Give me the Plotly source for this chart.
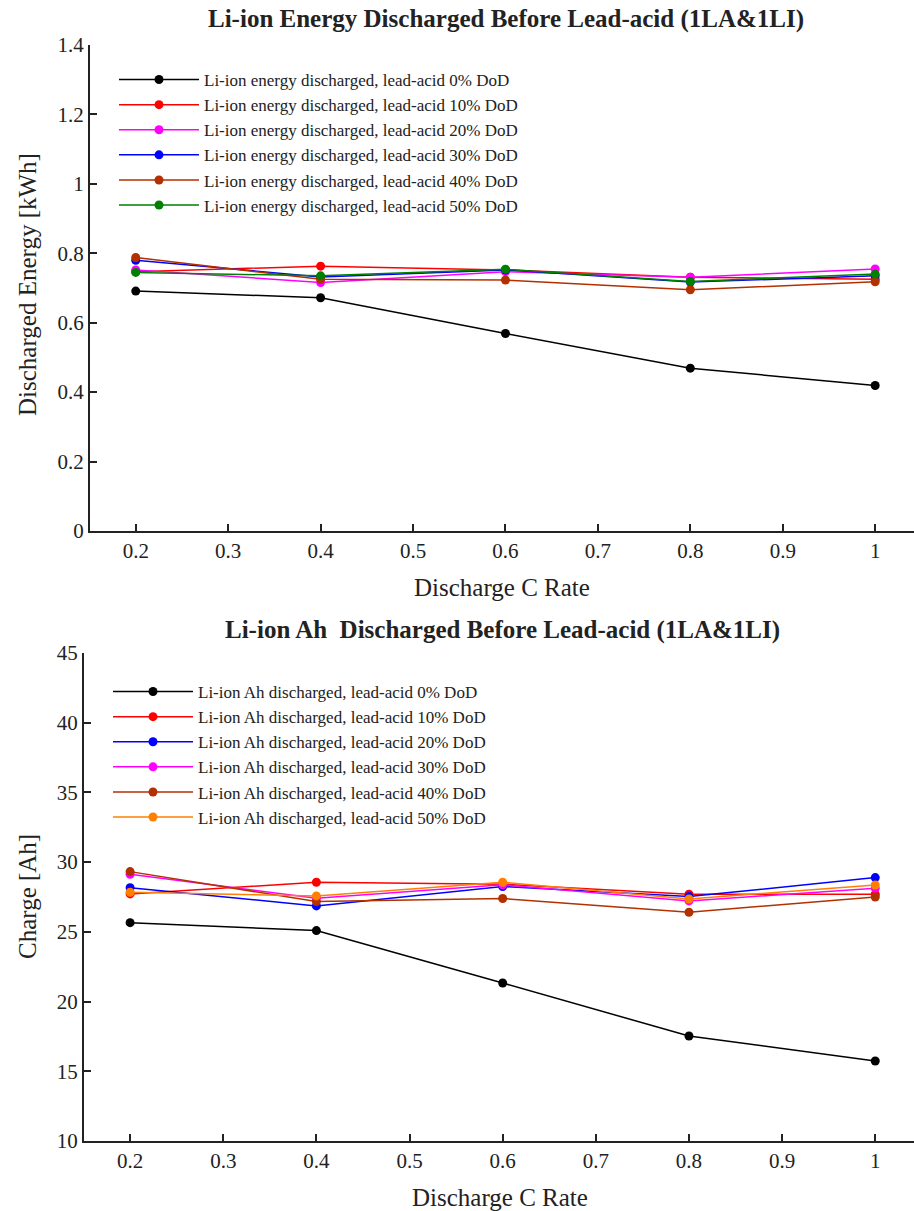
import plotly.graph_objects as go

c_rate = [0.2, 0.4, 0.6, 0.8, 1.0]

# Top chart: Li-ion energy discharged [kWh]
energy_0 = [0.691, 0.672, 0.569, 0.469, 0.419]
energy_10 = [0.747, 0.763, 0.752, 0.731, 0.725]
energy_20 = [0.752, 0.716, 0.747, 0.731, 0.755]
energy_30 = [0.780, 0.732, 0.752, 0.717, 0.735]
energy_40 = [0.788, 0.725, 0.723, 0.695, 0.718]
energy_50 = [0.745, 0.735, 0.754, 0.719, 0.740]

# Bottom chart: Li-ion Ah discharged [Ah]
ah_0 = [25.66, 25.09, 21.33, 17.53, 15.74]
ah_10 = [27.72, 28.56, 28.42, 27.70, 27.70]
ah_20 = [28.17, 26.86, 28.25, 27.53, 28.89]
ah_30 = [29.13, 27.41, 28.37, 27.22, 28.13]
ah_40 = [29.32, 27.17, 27.39, 26.41, 27.50]
ah_50 = [27.84, 27.58, 28.56, 27.36, 28.36]

dod_labels = ["0%", "10%", "20%", "30%", "40%", "50%"]

energy_series = [energy_0, energy_10, energy_20, energy_30, energy_40, energy_50]
energy_colors = ["#000000", "#FF0000", "#FF00FF", "#0000FF", "#B33000", "#008000"]
ah_series = [ah_0, ah_10, ah_20, ah_30, ah_40, ah_50]
ah_colors = ["#000000", "#FF0000", "#0000FF", "#FF00FF", "#B33000", "#FF8000"]

FONT = "Liberation Serif"
W, H = 914, 1211

fig = go.Figure()
for vals, col, lab in zip(energy_series, energy_colors, dod_labels):
    fig.add_trace(go.Scatter(
        x=c_rate, y=vals, mode="lines+markers",
        line=dict(color=col, width=1.5), marker=dict(color=col, size=9),
        name=f"Li-ion energy discharged, lead-acid {lab} DoD",
        xaxis="x", yaxis="y", legend="legend"))
for vals, col, lab in zip(ah_series, ah_colors, dod_labels):
    fig.add_trace(go.Scatter(
        x=c_rate, y=vals, mode="lines+markers",
        line=dict(color=col, width=1.5), marker=dict(color=col, size=9),
        name=f"Li-ion Ah discharged, lead-acid {lab} DoD",
        xaxis="x2", yaxis="y2", legend="legend2"))

axis_common = dict(
    showline=True, linecolor="#222222", linewidth=2, ticks="inside",
    ticklen=7, tickwidth=1.5, tickcolor="#222222", showgrid=False,
    zeroline=False, tickfont=dict(family=FONT, size=21, color="#222222"),
    automargin=False, mirror=False)

fig.update_layout(
    width=W, height=H, margin=dict(l=0, r=0, t=0, b=0),
    paper_bgcolor="white", plot_bgcolor="white",
    font=dict(family=FONT, color="#222222"),
    xaxis=dict(domain=[90 / W, 1.0], range=[0.1505, 1.042], dtick=0.1,
               tick0=0.2, anchor="y", **axis_common),
    yaxis=dict(domain=[1 - 531 / H, 1 - 45 / H], range=[0, 1.4], dtick=0.2,
               anchor="x", **axis_common),
    xaxis2=dict(domain=[84 / W, 1.0], range=[0.1505, 1.0416], dtick=0.1,
                tick0=0.2, anchor="y2", **axis_common),
    yaxis2=dict(domain=[1 - 1141 / H, 1 - 653 / H], range=[10, 45], dtick=5,
                anchor="x2", **axis_common),
    legend=dict(x=114 / W, y=1 - 62 / H, xanchor="left", yanchor="top",
                bgcolor="rgba(0,0,0,0)", font=dict(family=FONT, size=17, color="#222222"),
                itemwidth=80, tracegroupgap=0),
    legend2=dict(x=108 / W, y=1 - 674 / H, xanchor="left", yanchor="top",
                 bgcolor="rgba(0,0,0,0)", font=dict(family=FONT, size=17, color="#222222"),
                 itemwidth=80, tracegroupgap=0),
    showlegend=True,
)

annots = [
    dict(text="<b>Li-ion Energy Discharged Before Lead-acid (1LA&1LI)</b>", x=506 / W, y=1 - 19 / H, size=25),
    dict(text="<b>Li-ion Ah  Discharged Before Lead-acid (1LA&1LI)</b>", x=502 / W, y=1 - 630 / H, size=25),
    dict(text="Discharge C Rate", x=502 / W, y=1 - 587 / H, size=25),
    dict(text="Discharge C Rate", x=500 / W, y=1 - 1197 / H, size=25),
]
for a in annots:
    fig.add_annotation(text=a["text"], x=a["x"], y=a["y"], xref="paper", yref="paper",
                       xanchor="center", yanchor="middle", showarrow=False,
                       font=dict(family=FONT, size=a["size"], color="#222222"))
for txt, yc in [("Discharged Energy [kWh]", 285), ("Charge [Ah]", 897)]:
    fig.add_annotation(text=txt, x=27 / W, y=1 - yc / H, xref="paper", yref="paper",
                       xanchor="center", yanchor="middle", showarrow=False, textangle=-90,
                       font=dict(family=FONT, size=25, color="#222222"))

fig.write_html("out.html")
